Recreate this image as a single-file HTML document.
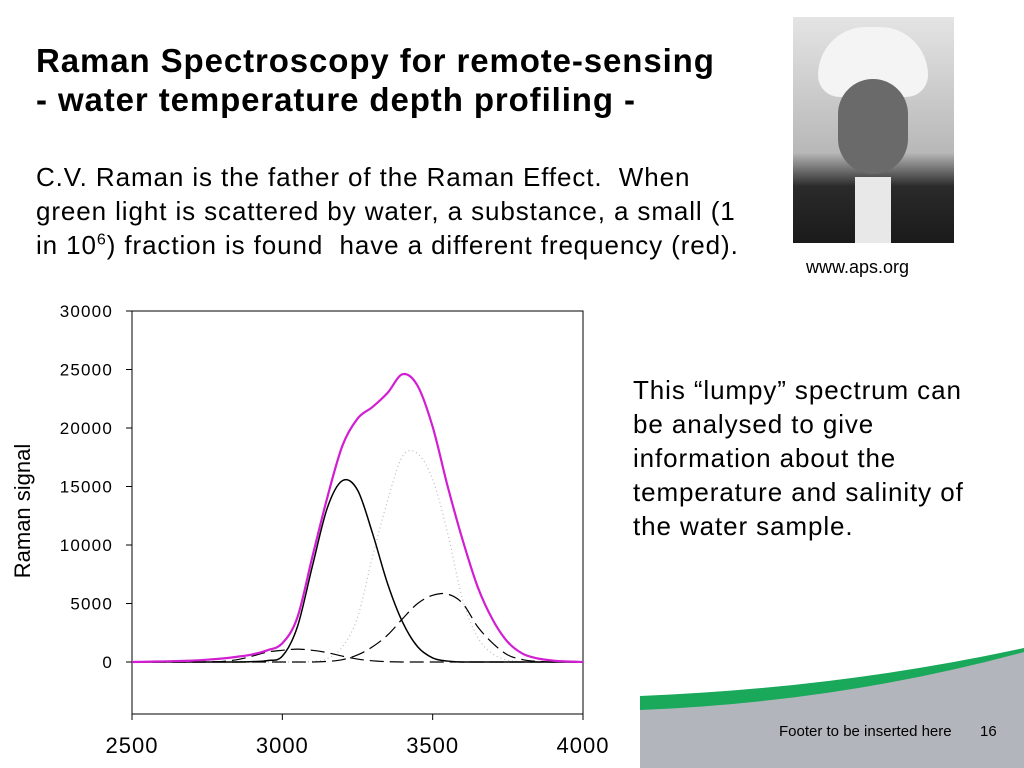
<!DOCTYPE html>
<html><head><meta charset="utf-8"><style>
body{margin:0;width:1024px;height:768px;overflow:hidden;background:#fff;font-family:"Liberation Sans",sans-serif;position:relative}
.abs{position:absolute;margin:0}
h1{position:absolute;left:36px;top:41px;margin:0;font-size:33px;letter-spacing:0.9px;line-height:39px;font-weight:bold;color:#000;white-space:nowrap}
.body{left:36px;top:160px;font-size:26px;letter-spacing:0.9px;line-height:34px;color:#000;white-space:nowrap}
.side{left:633px;top:373px;font-size:26px;letter-spacing:0.9px;line-height:34px;color:#000;white-space:nowrap}
sup{font-size:16px;line-height:0;vertical-align:0.6em}
</style></head><body>
<svg class="abs" style="left:0;top:0" width="1024" height="768">
<path d="M640 706 Q840 690 1024 648 L1024 768 L640 768 Z" fill="#b2b5bb"/>
<path d="M640 696 Q840 688 1024 648 L1024 652 Q840 702 640 710 Z" fill="#1aa85a"/>
</svg>
<h1>Raman Spectroscopy for remote-sensing<br>- water temperature depth profiling -</h1>
<p class="abs body">C.V. Raman is the father of the Raman Effect.&nbsp; When<br>green light is scattered by water, a substance, a small (1<br>in 10<sup>6</sup>) fraction is found&nbsp; have a different frequency (red).</p>
<div class="abs" style="left:793px;top:17px;width:161px;height:226px;background:linear-gradient(#e4e4e4,#b8b8b8 60%,#2a2a2a 75%,#1a1a1a)">
<div style="position:absolute;left:25px;top:10px;width:110px;height:70px;border-radius:55px 55px 25px 25px;background:#f4f4f4"></div>
<div style="position:absolute;left:45px;top:62px;width:70px;height:95px;border-radius:35px;background:#6a6a6a"></div>
<div style="position:absolute;left:62px;top:160px;width:36px;height:66px;background:#e8e8e8"></div>
</div>
<p class="abs" style="left:806px;top:257px;font-size:18px">www.aps.org</p>
<p class="abs side">This “lumpy” spectrum can<br>be analysed to give<br>information about the<br>temperature and salinity of<br>the water sample.</p>
<p class="abs" style="left:779px;top:723px;font-size:15px">Footer to be inserted here</p>
<p class="abs" style="left:980px;top:723px;font-size:15px">16</p>
<svg id="chart" class="abs" style="left:0;top:0" width="640" height="768"></svg>
<script>
const xVals=[2500,2550,2600,2650,2700,2750,2800,2850,2900,2950,3000,3050,3100,3150,3200,3250,3300,3350,3400,3450,3500,3550,3600,3650,3700,3750,3800,3850,3900,3950,4000];
const totalSignal=[0,20,50,80,120,200,300,450,650,1000,1600,3800,9000,14100,18500,20800,21800,23000,24600,23600,20100,15000,10400,6400,3600,1700,700,300,120,40,0];
const peakA=[0,0,0,0,0,0,0,0,30,120,500,3000,8200,13200,15500,14700,11000,6700,3400,1300,350,80,0,0,0,0,0,0,0,0,0];
const peakB=[0,0,0,0,0,0,0,0,0,0,0,0,50,300,1300,3800,9000,13800,17600,17800,15600,11000,5300,2100,700,150,30,0,0,0,0];
const peakC=[0,0,0,0,0,0,0,0,0,0,0,0,0,50,200,600,1300,2300,3700,5000,5700,5800,5000,3000,1600,600,200,50,0,0,0];
const peakD=[0,0,0,0,0,0,50,200,500,850,1000,1100,1000,800,500,250,100,30,0,0,0,0,0,0,0,0,0,0,0,0,0];
const yTicks=[0,5000,10000,15000,20000,25000,30000];
const xTicks=[2500,3000,3500,4000];
const L=132,R=583,T=311,B=714;
const sx=v=>L+(v-2500)/1500*(R-L);
const sy=v=>662-(v/30000)*(662-T);
const svg=document.getElementById('chart');
const NS='http://www.w3.org/2000/svg';
function mk(t,a){const e=document.createElementNS(NS,t);for(const k in a)e.setAttribute(k,a[k]);svg.appendChild(e);return e;}
let f=mk('rect',{x:L,y:T,width:R-L,height:B-T,fill:'none',stroke:'#000','stroke-width':1});


yTicks.forEach(v=>{
 const t=mk('line',{x1:L-6,x2:L,y1:sy(v),y2:sy(v),stroke:'#000'});
 
 
 const l=mk('text',{x:113,y:sy(v)+6,'text-anchor':'end','font-size':17,'letter-spacing':1.2,'font-family':'Liberation Sans, sans-serif'});
 l.textContent=v;
 
 
});
xTicks.forEach(v=>{
 const t=mk('line',{x1:sx(v),x2:sx(v),y1:B,y2:B+6,stroke:'#000'});
 
 
 const l=mk('text',{x:sx(v),y:753,'text-anchor':'middle','font-size':22,'letter-spacing':1,'font-family':'Liberation Sans, sans-serif'});
 l.textContent=v;
 
 
});
const yt=mk('text',{x:0,y:0,transform:'translate(30,511) rotate(-90)','text-anchor':'middle','font-size':22,'font-family':'Liberation Sans, sans-serif'});
yt.textContent='Raman signal';


function path(vals){
 const p=xVals.map((x,i)=>[sx(x),sy(vals[i])]);
 let d='M'+p[0][0]+' '+p[0][1];
 for(let i=0;i<p.length-1;i++){
  const p0=p[Math.max(0,i-1)],p1=p[i],p2=p[i+1],p3=p[Math.min(p.length-1,i+2)];
  d+=' C'+(p1[0]+(p2[0]-p0[0])/6)+' '+(p1[1]+(p2[1]-p0[1])/6)+' '+(p2[0]-(p3[0]-p1[0])/6)+' '+(p2[1]-(p3[1]-p1[1])/6)+' '+p2[0]+' '+p2[1];
 }
 return d;
}
const sB=mk('path',{d:path(peakB),fill:'none',stroke:'#bbb','stroke-width':1.2,'stroke-dasharray':'1 3'});


const sC=mk('path',{d:path(peakC),fill:'none',stroke:'#000','stroke-width':1.2,'stroke-dasharray':'14 6'});


const sD=mk('path',{d:path(peakD),fill:'none',stroke:'#000','stroke-width':1.2,'stroke-dasharray':'14 6'});


const sA=mk('path',{d:path(peakA),fill:'none',stroke:'#000','stroke-width':1.5});


const sT=mk('path',{d:path(totalSignal),fill:'none',stroke:'#d21ed2','stroke-width':2.2});


</script>
</body></html>
